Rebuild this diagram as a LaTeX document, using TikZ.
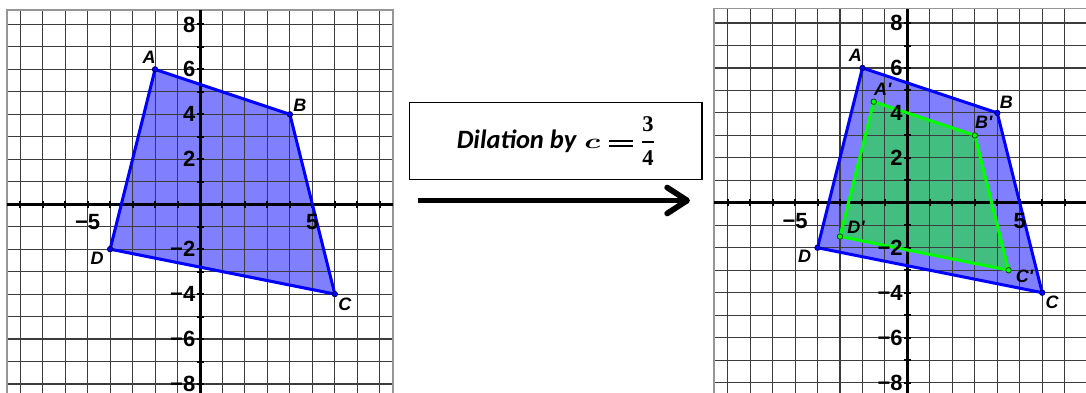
\documentclass[tikz,border=0pt]{standalone}
\usepackage{amsmath}
\usepackage{graphicx}
\usepackage{fontspec}
\setmainfont{Liberation Sans}
\newfontfamily\boxfont{Carlito}
\newfontfamily\seriffont{Liberation Serif}
\usetikzlibrary{arrows.meta}
\definecolor{gridc}{RGB}{60,60,60}
\definecolor{framec}{RGB}{150,150,150}
\definecolor{bluefill}{RGB}{128,128,255}
\definecolor{blueedge}{RGB}{0,0,255}
\definecolor{greenfill}{RGB}{66,190,128}
\definecolor{greenedge}{RGB}{0,255,0}
\newcommand\dilationtext{%
  {\boxfont\bfseries\itshape\fontsize{26.5}{26.5}\selectfont Dilation by}\hspace{8pt}%
  \scalebox{1.5}[1]{\fontsize{21}{21}\selectfont$\boldsymbol{c}$}\hspace{9pt}%
  \raisebox{1.7pt}{\vbox{\hrule width 24pt height 1.8pt\vskip 3.2pt\hrule width 24pt height 1.8pt}}\hspace{8pt}%
  $\genfrac{}{}{1.8pt}{0}{\text{\seriffont\bfseries\fontsize{22.5}{22.5}\selectfont 3}}{\text{\seriffont\bfseries\fontsize{22.5}{22.5}\selectfont 4}}$}
\tikzset{
  gridline/.style={gridc, line width=1.1pt},
  frameline/.style={framec, line width=1.5pt},
  axisline/.style={black, line width=3pt},
  tickmark/.style={black, line width=2pt},
  ticklab/.style={font=\fontsize{22}{22}\selectfont\bfseries, inner sep=0pt},
  ptlab/.style={font=\fontsize{18}{18}\selectfont\bfseries\itshape, inner sep=0pt},
  bluepolyfill/.style={fill=bluefill},
  greenpolyfill/.style={fill=greenfill},
  bluepoly/.style={blueedge, line width=3pt, line join=round},
  greenpoly/.style={greenedge, line width=3pt, line join=round},
  bluept/.style={circle, draw=black!60!blue, fill=blueedge, line width=0.8pt, minimum size=5.5pt, inner sep=0pt},
  greenpt/.style={circle, draw=black!70!green, fill=greenedge, line width=0.8pt, minimum size=5.5pt, inner sep=0pt},
  dilbox/.style={draw=black, line width=1.5pt, minimum width=292.3pt, minimum height=76.6pt, inner sep=0pt, font=\fontsize{25}{25}\selectfont},
  bigarrow/.style={black, line width=5.7pt, -{Straight Barb[length=20pt, width=26pt, round]}}
}
\newcommand\gridaxes{%
  \foreach \i in {-8,...,8} {
    \draw[gridline] (\i,-8.6) -- (\i,8.64);
    \draw[gridline] (-8.6,\i) -- (8.6,\i);
  }
  \draw[frameline] (-8.6,-8.6) rectangle (8.6,8.64);
  \draw[axisline] (-8.6,0) -- (8.6,0);
  \draw[axisline] (0,-8.6) -- (0,8.64);
  \foreach \i in {-8,...,-1,1,2,...,8} {
    \draw[tickmark] (\i,0) ++(0,-3.5pt) -- ++(0,7pt);
    \draw[tickmark] (0,\i) ++(-3.5pt,0) -- ++(7pt,0);
  }
}
\newcommand\ticklabels[1]{%
  \foreach \v/\t in {8/8,6/6,4/4,2/2,-2/−2,-4/−4,-6/−6,-8/−8}
    \node[ticklab, anchor=east] (#1y\v) at ([xshift=-4.5pt]0,\v) {\t};
  \node[ticklab] (#1xm5) at ([yshift=-18.3pt]-5,0) {−5};
  \node[ticklab] (#1xp5) at ([yshift=-18.3pt]5,0) {5};
}
\begin{document}
\begin{tikzpicture}[x=1pt, y=-1pt]
\useasboundingbox (0,0) rectangle (1086,392);
\clip (0,0) rectangle (1086,392);
\fill[white] (0,0) rectangle (1086,392);
\begin{scope}[shift={(200pt,-204.2pt)}, x=22.47pt, y=22.47pt]
  \coordinate (LA) at (-2,6);
  \coordinate (LB) at (4,4);
  \coordinate (LC) at (6,-4);
  \coordinate (LD) at (-4,-2);
  \fill[bluepolyfill] (LA) -- (LB) -- (LC) -- (LD) -- cycle;
  \gridaxes
  \draw[bluepoly] (LA) -- (LB) -- (LC) -- (LD) -- cycle;
  \node[bluept] (LAp) at (LA) {};
  \node[bluept] (LBp) at (LB) {};
  \node[bluept] (LCp) at (LC) {};
  \node[bluept] (LDp) at (LD) {};
  \ticklabels{L}
  \node[ptlab] (LAl) at ([xshift=-6pt, yshift=12pt]LA) {A};
  \node[ptlab] (LBl) at ([xshift=10pt, yshift=9pt]LB) {B};
  \node[ptlab] (LCl) at ([xshift=10pt, yshift=-10pt]LC) {C};
  \node[ptlab] (LDl) at ([xshift=-13pt, yshift=-9pt]LD) {D};
\end{scope}
\node[dilbox] (dil) at (555.85,141) {\dilationtext};
\coordinate (arrS) at (418.3,200.5);
\coordinate (arrE) at (690,200.5);
\draw[bigarrow] (arrS) -- (arrE);
\begin{scope}[shift={(907.4pt,-202.8pt)}, x=22.47pt, y=22.47pt]
  \coordinate (RA) at (-2,6);
  \coordinate (RB) at (4,4);
  \coordinate (RC) at (6,-4);
  \coordinate (RD) at (-4,-2);
  \coordinate (RA1) at (-1.5,4.5);
  \coordinate (RB1) at (3,3);
  \coordinate (RC1) at (4.5,-3);
  \coordinate (RD1) at (-3,-1.5);
  \fill[bluepolyfill] (RA) -- (RB) -- (RC) -- (RD) -- cycle;
  \fill[greenpolyfill] (RA1) -- (RB1) -- (RC1) -- (RD1) -- cycle;
  \gridaxes
  \draw[bluepoly] (RA) -- (RB) -- (RC) -- (RD) -- cycle;
  \draw[greenpoly] (RA1) -- (RB1) -- (RC1) -- (RD1) -- cycle;
  \node[bluept] (RAp) at (RA) {};
  \node[bluept] (RBp) at (RB) {};
  \node[bluept] (RCp) at (RC) {};
  \node[bluept] (RDp) at (RD) {};
  \node[greenpt] (RA1p) at (RA1) {};
  \node[greenpt] (RB1p) at (RB1) {};
  \node[greenpt] (RC1p) at (RC1) {};
  \node[greenpt] (RD1p) at (RD1) {};
  \ticklabels{R}
  \node[ptlab] (RAl) at ([xshift=-7pt, yshift=13pt]RA) {A};
  \node[ptlab] (RBl) at ([xshift=9pt, yshift=11pt]RB) {B};
  \node[ptlab] (RCl) at ([xshift=10pt, yshift=-10pt]RC) {C};
  \node[ptlab] (RDl) at ([xshift=-13pt, yshift=-9pt]RD) {D};
  \node[ptlab] (RA1l) at ([xshift=9pt, yshift=12pt]RA1) {A\textquotesingle};
  \node[ptlab] (RB1l) at ([xshift=9pt, yshift=13pt]RB1) {B\textquotesingle};
  \node[ptlab] (RC1l) at ([xshift=16pt, yshift=-6pt]RC1) {C\textquotesingle};
  \node[ptlab] (RD1l) at ([xshift=16pt, yshift=9pt]RD1) {D\textquotesingle};
\end{scope}
\end{tikzpicture}
\end{document}
